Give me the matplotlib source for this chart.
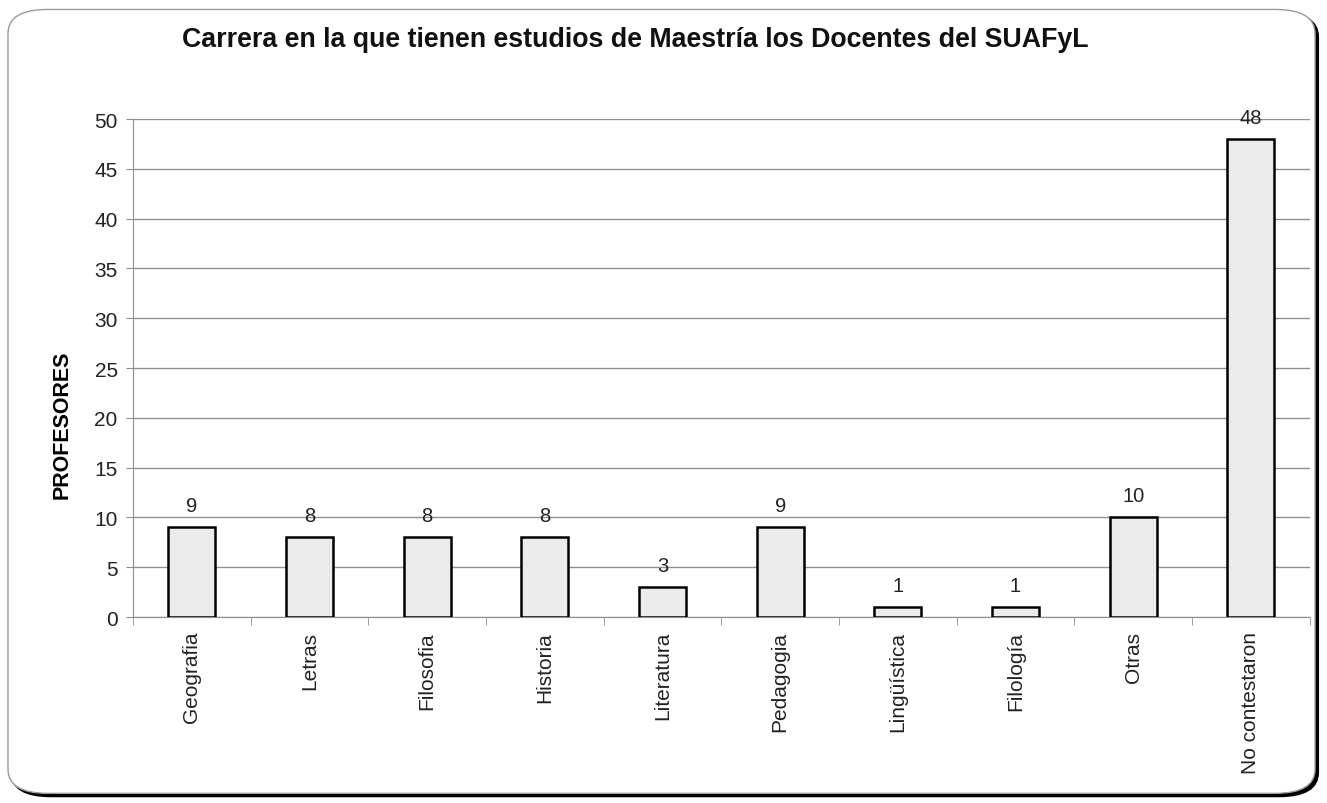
import matplotlib
matplotlib.use("Agg")
import matplotlib.pyplot as plt
from matplotlib.patches import FancyBboxPatch
import numpy as np

plt.rcParams['font.family'] = ['Liberation Sans', 'DejaVu Sans']

categories = ["Geografia", "Letras", "Filosofia", "Historia", "Literatura",
              "Pedagogia", "Lingüística", "Filología", "Otras", "No contestaron"]
profesores = [9, 8, 8, 8, 3, 9, 1, 1, 10, 48]
yticks = [0, 5, 10, 15, 20, 25, 30, 35, 40, 45, 50]

fig = plt.figure(figsize=(13.27, 8.04), dpi=100)
fig.patch.set_facecolor('white')

# rounded chart frame with a dark shadow on the right and bottom
shadow = FancyBboxPatch((0.0085, 0.008), 0.985, 0.975,
                        boxstyle="round,pad=0,rounding_size=0.03",
                        transform=fig.transFigure, facecolor='black',
                        edgecolor='black', lw=1, zorder=0)
frame = FancyBboxPatch((0.006, 0.012), 0.985, 0.975,
                       boxstyle="round,pad=0,rounding_size=0.03",
                       transform=fig.transFigure, facecolor='white',
                       edgecolor='#9a9a9a', lw=1, zorder=0.5)
fig.patches.extend([shadow, frame])

ax = fig.add_axes([0.1002, 0.2313, 0.8868, 0.6194])
ax.set_zorder(2)
ax.set_facecolor('none')
x = np.arange(len(categories))
bars = ax.bar(x, profesores, width=0.4, color='#ebebeb', edgecolor='black',
              linewidth=1.8, zorder=3)
for xi, v in zip(x, profesores):
    ax.text(xi, v + 1.2, str(v), ha='center', va='bottom', fontsize=14.5,
            color='#222222', zorder=4)

ax.set_xlim(-0.5, len(categories) - 0.5)
ax.set_ylim(0, 50)
ax.set_yticks(yticks)
ax.set_yticklabels([str(t) for t in yticks], fontsize=15, color='#222222')
ax.yaxis.grid(True, color='#8f8f8f', linewidth=1.0, zorder=1)
ax.set_axisbelow(True)

ax.set_xticks(x)
ax.set_xticklabels(categories, rotation=90, fontsize=15, color='#222222')
ax.tick_params(axis='x', length=0, pad=10)
ax.set_xticks(np.arange(-0.5, len(categories)), minor=True)
ax.tick_params(axis='x', which='minor', length=6, color='#8f8f8f', direction='out')
ax.tick_params(axis='y', length=5, color='#8f8f8f', pad=6)

for s in ['top', 'right']:
    ax.spines[s].set_visible(False)
ax.spines['left'].set_color('#8f8f8f')
ax.spines['bottom'].set_color('#8f8f8f')

ax.set_ylabel("PROFESORES", fontsize=15.5, fontweight='bold')
ax.yaxis.set_label_coords(-0.051, 0.388)

fig.text(0.479, 0.95, "Carrera en la que tienen estudios de Maestría los Docentes del SUAFyL",
         ha='center', va='center', fontsize=19.3, fontweight='bold', color='#111111',
         zorder=3)

fig.savefig("out.png", dpi=100, facecolor='white')
